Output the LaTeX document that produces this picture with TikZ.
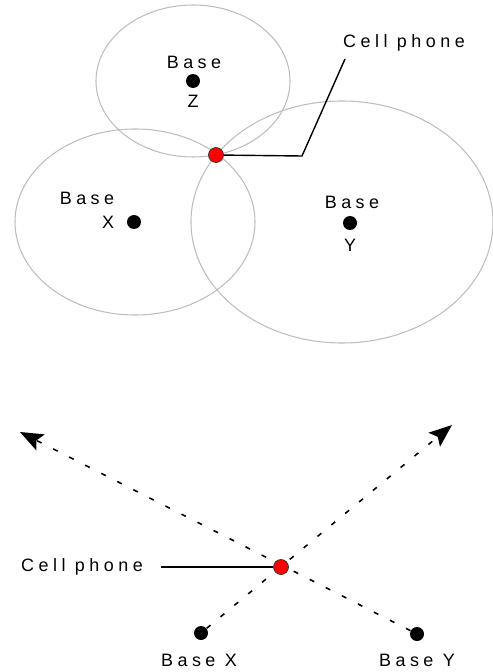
\documentclass[tikz,border=0pt]{standalone}
\usepackage{fontspec}
\usepackage{tikz}
\usetikzlibrary{arrows.meta,positioning,backgrounds}
\newfontfamily\lblfont[LetterSpace=25]{Liberation Sans}
\definecolor{ringgray}{HTML}{BDBDBD}
\definecolor{phonered}{HTML}{FF0000}
\tikzset{
  >={Stealth[length=4.6mm,width=3.6mm,inset=0.9mm]},
  % stationer och telefon
  base/.style={circle,fill=black,inner sep=0pt,minimum size=0.28cm},
  phone/.style={circle,fill=phonered,draw=black!80,line width=0.4pt,
                inner sep=0pt,minimum size=0.3cm},
  lbl/.style={font=\lblfont\fontsize{10.2}{12}\selectfont,inner sep=0pt},
  ring/.style={draw=ringgray,line width=0.6pt},
  lead/.style={draw=black,line width=0.8pt},
  ray/.style={->,draw=black,line width=0.9pt,dash pattern=on 0.1cm off 0.26cm},
}
\begin{document}
\begin{tikzpicture}[x=0.02cm,y=-0.02cm]
  \useasboundingbox (0,0) rectangle (493,672);
  % upp: tre räckvidder
  \draw[ring] (193,81) ellipse [x radius=97,y radius=76];
  \draw[ring] (135,222) ellipse [x radius=120,y radius=93];
  \draw[ring] (342,222) ellipse [x radius=151,y radius=121];
  \node[base] (bz) at (193,81) {};
  \node[base] (bx) at (134,222) {};
  \node[base] (by) at (350,223) {};
  \node[lbl] (bzt) at (194,62) {Base};
  \node[lbl] (bzn) at (193,101) {Z};
  \node[lbl] (bxt) at (87,198) {Base};
  \node[lbl] (bxn) at (108,222) {X};
  \node[lbl] (byt) at (352,202) {Base};
  \node[lbl] (byn) at (350,245) {Y};
  \node[phone] (ph1) at (216,155) {};
  \node[lbl] (cp1) at (404,43) {Cell phone};
  \coordinate (k1) at (302,156);
  \coordinate (k2) at (345,59);
  \draw[lead] (ph1) -- (k1) -- (k2);
  % ner: riktningar
  \node[phone] (ph2) at (281,567) {};
  \node[base] (bx2) at (201,633) {};
  \node[base] (by2) at (417,634) {};
  \node[lbl] (bx2t) at (199,660) {Base X};
  \node[lbl] (by2t) at (417,660) {Base Y};
  \node[lbl] (cp2) at (82,567) {Cell phone};
  \coordinate (nw) at (20,432);
  \coordinate (ne) at (452,425);
  \coordinate (k3) at (161,567);
  \begin{scope}[on background layer]
  \draw[ray] (bx2) -- (ne);
  \draw[ray] (by2) -- (nw);
  \end{scope}
  \draw[lead] (k3) -- (ph2);
\end{tikzpicture}
\end{document}
